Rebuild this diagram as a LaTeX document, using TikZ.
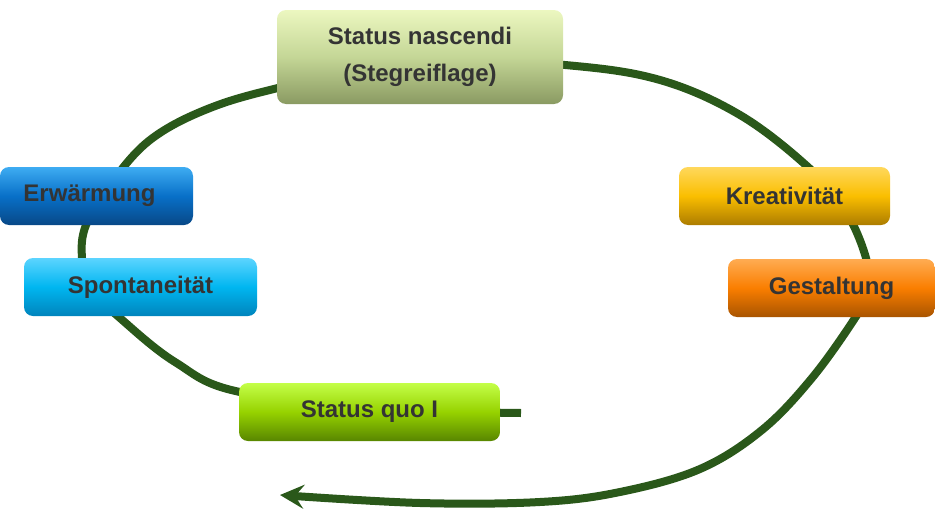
\documentclass[tikz,border=0pt]{standalone}
\usepackage{fontspec}
\setmainfont{Liberation Sans}
\usetikzlibrary{arrows.meta}
\definecolor{loopgreen}{RGB}{42,88,26}
\definecolor{labelgray}{RGB}{52,52,52}

\begin{document}
\begin{tikzpicture}[x=1pt,y=-1pt,
    box/.style={rounded corners=9pt,minimum height=58pt,inner sep=0pt,align=center,
      text=labelgray,font=\bfseries\fontsize{24}{37}\selectfont},
    flow/.style={line width=8pt,draw=loopgreen,-{Stealth[length=24pt,width=24pt,inset=9pt]}}]
\useasboundingbox (0,0) rectangle (935,514);
\coordinate (start) at (521,413);
\coordinate (tip) at (280,495);
\draw[flow] plot[smooth,tension=0.6] coordinates {(start) (400,409) (240,392) (175,362)
    (120,318) (90,288) (82,258) (86,225) (112,182) (150,140) (205,110) (278,88)
    (420,58) (565,65) (660,80) (740,115) (808,167) (845,210) (866,258) (868,292)
    (855,318) (812,378) (762,430) (700,469) (620,492) (540,502) (420,503) (tip)};
\node[box,minimum width=286pt,minimum height=94pt,top color={rgb,255:red,236;green,247;blue,192},
    bottom color={rgb,255:red,138;green,154;blue,98},middle color={rgb,255:red,196;green,214;blue,150}]
    (nascendi) at (420,57) {Status nascendi\\(Stegreiflage)};
\node[box,minimum width=193pt,top color={rgb,255:red,62;green,172;blue,242},
    bottom color={rgb,255:red,8;green,72;blue,135},middle color={rgb,255:red,8;green,112;blue,200}]
    (erwaermung) at (96.5,196) {Erwärmung\hspace{14pt}};
\node[box,minimum width=233pt,top color={rgb,255:red,92;green,212;blue,255},
    bottom color={rgb,255:red,0;green,132;blue,188},middle color={rgb,255:red,0;green,182;blue,240}]
    (spontan) at (140.5,287) {Spontaneität};
\node[box,minimum width=211pt,top color={rgb,255:red,255;green,216;blue,92},
    bottom color={rgb,255:red,172;green,124;blue,0},middle color={rgb,255:red,250;green,190;blue,0}]
    (kreativ) at (784.5,196) {Kreativität};
\node[box,minimum width=207pt,top color={rgb,255:red,255;green,172;blue,82},
    bottom color={rgb,255:red,168;green,84;blue,0},middle color={rgb,255:red,250;green,126;blue,0}]
    (gestalt) at (831.5,288) {Gestaltung};
\node[box,minimum width=261pt,top color={rgb,255:red,196;green,255;blue,72},
    bottom color={rgb,255:red,88;green,134;blue,0},middle color={rgb,255:red,150;green,210;blue,0}]
    (quo) at (369.5,412) {Status quo I};
\end{tikzpicture}
\end{document}
